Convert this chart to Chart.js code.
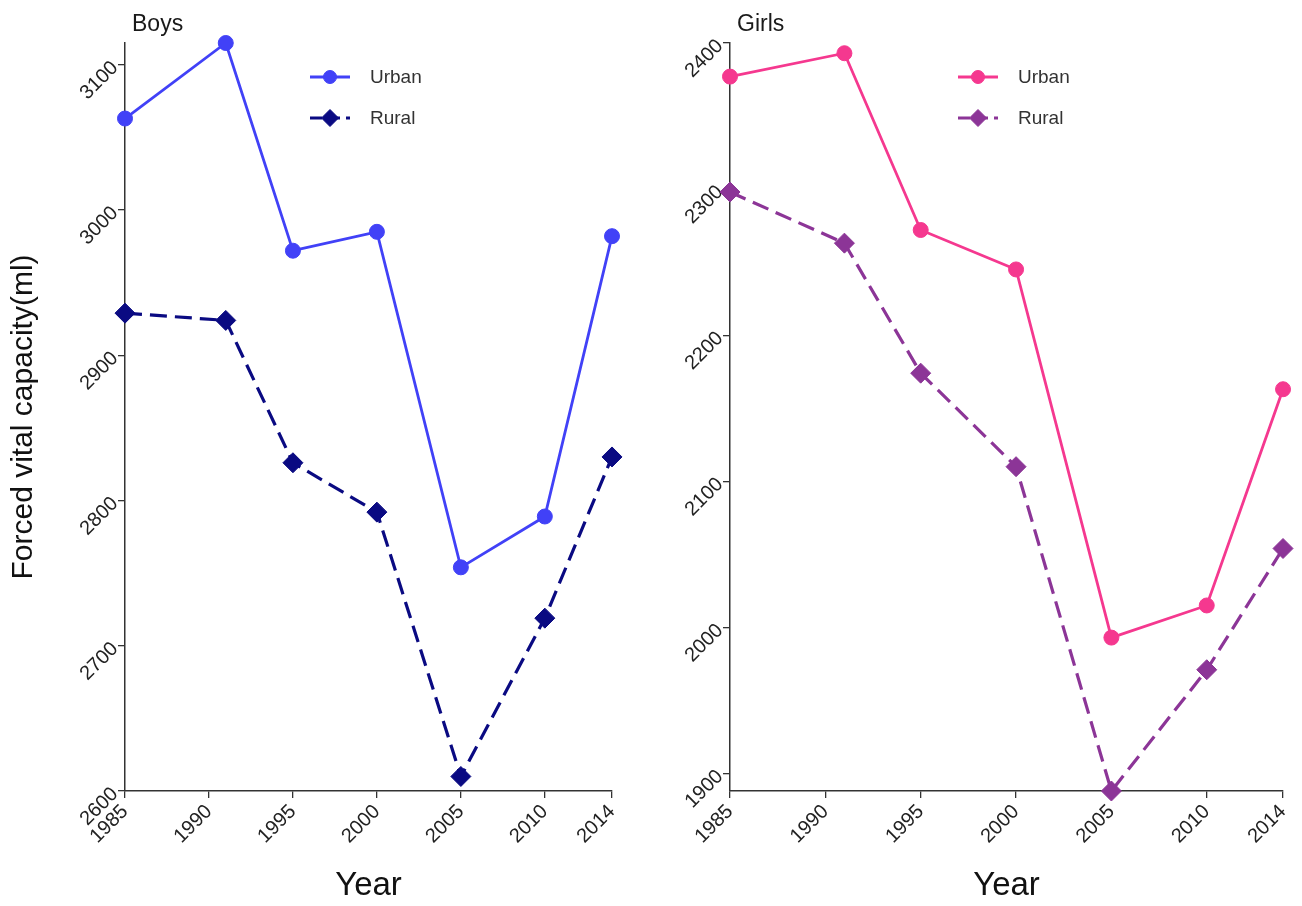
<!DOCTYPE html>
<html>
<head>
<meta charset="utf-8">
<script src="https://cdn.jsdelivr.net/npm/chart.js@4.4.1/dist/chart.umd.min.js"></script>
<style>
  html, body { margin: 0; padding: 0; background: #ffffff; }
  #wrap { position: relative; width: 1302px; height: 906px; overflow: hidden; background: #ffffff; }
  #wrap canvas { position: absolute; top: 0; }
</style>
</head>
<body>
<div id="wrap">
  <canvas id="boys" width="651" height="906" style="left:0px"></canvas>
  <canvas id="girls" width="651" height="906" style="left:651px"></canvas>
</div>
<script>
// Survey years and forced vital capacity (ml) by residence
const surveyYears = [1985, 1991, 1995, 2000, 2005, 2010, 2014];
const yearTicks   = [1985, 1990, 1995, 2000, 2005, 2010, 2014];

const boysUrban  = [3063, 3115, 2972, 2985, 2754, 2789, 2982];
const boysRural  = [2929, 2924, 2826, 2792, 2610, 2719, 2830];
const girlsUrban = [2377, 2393, 2272, 2245, 1993, 2015, 2163];
const girlsRural = [2298, 2263, 2174, 2110, 1888, 1971, 2054];

const boysTicks  = [2600, 2700, 2800, 2900, 3000, 3100];
const girlsTicks = [1900, 2000, 2100, 2200, 2300, 2400];

const seriesNames = ['Urban', 'Rural'];

const FONT = '"Liberation Sans", Arial, Helvetica, sans-serif';

// Panel heading and the line+marker key
const panelDecor = {
  id: 'panelDecor',
  afterDraw(chart, args, opts) {
    const ctx = chart.ctx;
    const a = chart.chartArea;
    ctx.save();
    ctx.font = '23px ' + FONT;
    ctx.fillStyle = '#1a1a1a';
    ctx.textBaseline = 'middle';
    ctx.textAlign = 'left';
    ctx.fillText(opts.heading, a.left + 7, 25);

    chart.data.datasets.forEach((ds, i) => {
      const y = opts.keyY[i];
      const x0 = a.left + opts.keyX;
      ctx.strokeStyle = ds.borderColor;
      ctx.lineWidth = ds.borderWidth;
      ctx.setLineDash(ds.borderDash ? [12, 6] : []);
      ctx.beginPath();
      ctx.moveTo(x0, y);
      ctx.lineTo(x0 + 40, y);
      ctx.stroke();
      ctx.setLineDash([]);
      ctx.fillStyle = ds.pointBackgroundColor;
      ctx.strokeStyle = ds.pointBorderColor;
      ctx.lineWidth = 1;
      Chart.helpers.drawPoint(ctx, {
        pointStyle: ds.pointStyle,
        radius: ds.pointStyle === 'circle' ? 6.5 : 8.5,
        rotation: 0,
        borderWidth: 1
      }, x0 + 20, y);
      ctx.font = '19px ' + FONT;
      ctx.fillStyle = '#333333';
      ctx.fillText(ds.label, x0 + 60, y + 1);
    });
    ctx.restore();
  }
};

function fixedTicks(values) {
  return scale => { scale.ticks = values.map(v => ({ value: v })); };
}

function makePanel(id, cfg) {
  const urbanPts = surveyYears.map((x, i) => ({ x: x, y: cfg.urban[i] }));
  const ruralPts = surveyYears.map((x, i) => ({ x: x, y: cfg.rural[i] }));
  return new Chart(document.getElementById(id), {
    type: 'line',
    data: {
      datasets: [
        {
          label: seriesNames[0],
          data: urbanPts,
          borderColor: cfg.urbanColor,
          backgroundColor: cfg.urbanColor,
          pointBackgroundColor: cfg.urbanColor,
          pointBorderColor: cfg.urbanColor,
          pointStyle: 'circle',
          pointRadius: 7.5,
          pointBorderWidth: 1,
          borderWidth: 2.8,
          tension: 0,
          clip: false
        },
        {
          label: seriesNames[1],
          data: ruralPts,
          borderColor: cfg.ruralColor,
          backgroundColor: cfg.ruralColor,
          pointBackgroundColor: cfg.ruralColor,
          pointBorderColor: cfg.ruralColor,
          pointStyle: 'rectRot',
          pointRadius: 10,
          pointBorderWidth: 1,
          borderWidth: 3.2,
          borderDash: [17, 8],
          tension: 0,
          clip: false
        }
      ]
    },
    options: {
      responsive: false,
      animation: false,
      devicePixelRatio: 1,
      layout: { padding: { top: 43, left: cfg.padLeft, right: cfg.padRight, bottom: 0 } },
      plugins: {
        legend: { display: false },
        tooltip: { enabled: false },
        panelDecor: { heading: cfg.heading, keyX: cfg.keyX, keyY: [77, 118] }
      },
      scales: {
        x: {
          type: 'linear',
          min: 1985,
          max: 2014,
          afterBuildTicks: fixedTicks(yearTicks),
          afterFit: s => { s.height = 115; },
          grid: { drawOnChartArea: false, color: '#333333', tickLength: 7, lineWidth: 1.3 },
          border: { color: '#333333', width: 1.5 },
          ticks: {
            minRotation: 45, maxRotation: 45, autoSkip: false,
            padding: 2,
            color: '#222222',
            font: { family: FONT, size: 20 },
            callback: v => String(v)
          },
          title: {
            display: true, text: 'Year', color: '#111111', padding: 0,
            font: { family: FONT, size: 33 }
          }
        },
        y: {
          type: 'linear',
          min: cfg.yMin,
          max: cfg.yMax,
          afterBuildTicks: fixedTicks(cfg.yTicks),
          afterFit: s => { s.width = cfg.yWidth; },
          grid: { drawOnChartArea: false, color: '#333333', tickLength: 7, lineWidth: 1.3 },
          border: { color: '#333333', width: 1.5 },
          ticks: {
            minRotation: 45, maxRotation: 45,
            padding: 3,
            color: '#222222',
            font: { family: FONT, size: 20 },
            callback: v => String(v)
          },
          title: {
            display: cfg.showYTitle, text: 'Forced vital capacity(ml)', color: '#111111', padding: 0,
            font: { family: FONT, size: 30 }
          }
        }
      }
    },
    plugins: [panelDecor]
  });
}

makePanel('boys', {
  heading: 'Boys',
  urban: boysUrban, rural: boysRural,
  urbanColor: '#4141f7', ruralColor: '#0a0a82',
  yMin: 2600, yMax: 3115, yTicks: boysTicks,
  padLeft: 6, yWidth: 119, padRight: 39,
  showYTitle: true, keyX: 185
});

makePanel('girls', {
  heading: 'Girls',
  urban: girlsUrban, rural: girlsRural,
  urbanColor: '#f5388f', ruralColor: '#8c3597',
  yMin: 1888, yMax: 2400, yTicks: girlsTicks,
  padLeft: 0, yWidth: 79, padRight: 13,
  showYTitle: false, keyX: 228
});
</script>
</body>
</html>
